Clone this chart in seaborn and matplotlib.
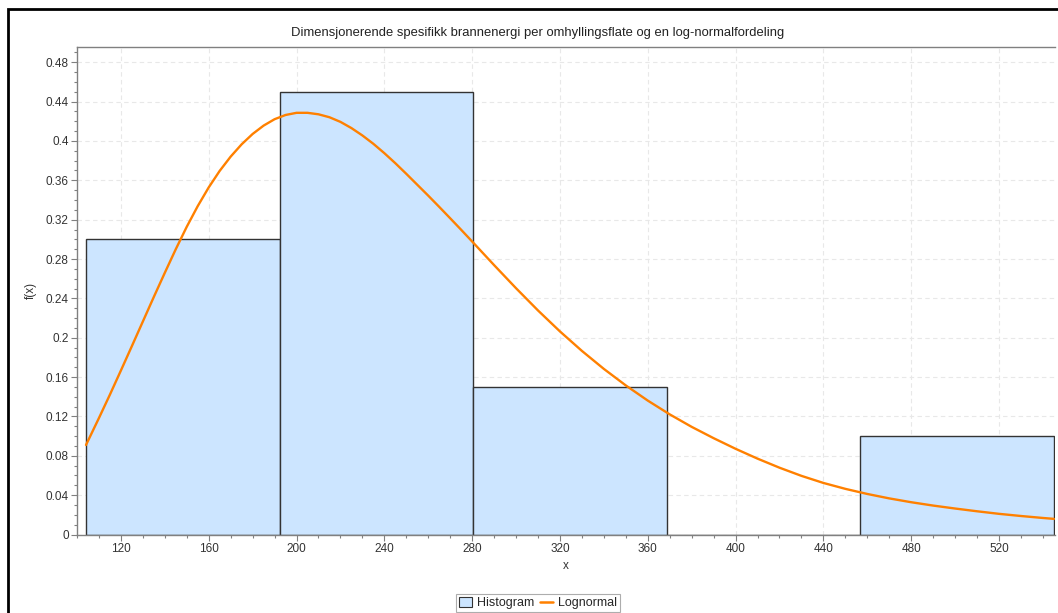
import matplotlib
matplotlib.use("Agg")
import matplotlib.pyplot as plt
import matplotlib.patches as mpatches
from matplotlib.lines import Line2D
from matplotlib.ticker import MultipleLocator, FuncFormatter
import seaborn as sns
import pandas as pd

# ---- data ----
bin_edges = [104.1, 192.3, 280.5, 368.6, 456.8, 545.0]
bin_heights = [0.30, 0.45, 0.15, 0.0, 0.10]

curve_x = [104.1, 110, 115, 120, 125, 130, 135, 140, 145, 150, 155, 160, 165, 170,
           175, 180, 185, 190, 195, 200, 205, 210, 215, 220, 225, 230, 235, 240,
           245, 250, 255, 260, 265, 270, 275, 280, 290, 300, 310, 320, 330, 340,
           350, 360, 370, 380, 390, 400, 410, 420, 430, 440, 450, 460, 470, 480,
           490, 500, 510, 520, 530, 540, 545]
curve_y = [0.0910, 0.1184, 0.1422, 0.1667, 0.1915, 0.2165, 0.2415, 0.2660, 0.2900,
           0.3128, 0.3338, 0.3528, 0.3696, 0.3841, 0.3966, 0.4071, 0.4156, 0.4221,
           0.4264, 0.4286, 0.4286, 0.4271, 0.4241, 0.4194, 0.4131, 0.4056, 0.3971,
           0.3876, 0.3774, 0.3666, 0.3555, 0.3444, 0.3330, 0.3214, 0.3097, 0.2978,
           0.2738, 0.2503, 0.2277, 0.2064, 0.1866, 0.1683, 0.1515, 0.1361, 0.1221,
           0.1094, 0.0979, 0.0871, 0.0771, 0.0679, 0.0596, 0.0524, 0.0464, 0.0412,
           0.0367, 0.0328, 0.0294, 0.0264, 0.0236, 0.0210, 0.0188, 0.0168, 0.0159]

title = "Dimensjonerende spesifikk brannenergi per omhyllingsflate og en log-normalfordeling"
x_label = "x"
y_label = "f(x)"
legend_labels = ["Histogram", "Lognormal"]

sns.set_theme(style="white")
plt.rcParams["font.family"] = ["Liberation Sans", "DejaVu Sans"]

bar_color = "#CCE5FF"
line_color = "#FF8000"
spine_color = "#808080"

fig = plt.figure(figsize=(10.58, 6.13), dpi=100)
ax = fig.add_axes([77 / 1058, 1 - 534.5 / 613, (1055 - 77) / 1058, (534.5 - 47) / 613])

centers = [(bin_edges[i] + bin_edges[i + 1]) / 2 for i in range(len(bin_heights))]
hist_df = pd.DataFrame({"x": centers, "w": bin_heights})
sns.histplot(data=hist_df, x="x", weights="w", bins=bin_edges, stat="count",
             color=bar_color, alpha=1.0, edgecolor="#333333", linewidth=1.0, ax=ax, zorder=2)

curve_df = pd.DataFrame({"x": curve_x, "y": curve_y})
sns.lineplot(data=curve_df, x="x", y="y", color=line_color, linewidth=1.7, ax=ax, zorder=3,
             solid_joinstyle="round", solid_capstyle="round")

ax.set_xlim(100, 545.5)
ax.set_ylim(0, 0.4955)

ax.xaxis.set_major_locator(MultipleLocator(40))
ax.xaxis.set_minor_locator(MultipleLocator(10))
ax.yaxis.set_major_locator(MultipleLocator(0.04))
ax.yaxis.set_minor_locator(MultipleLocator(0.01))
ax.yaxis.set_major_formatter(FuncFormatter(lambda v, p: f"{round(v, 2):g}"))
ax.set_xticks(range(120, 541, 40))

ax.grid(True, which="major", color="#E8E8E8", linestyle=(0, (4, 3)), linewidth=0.8, zorder=0)
ax.set_axisbelow(True)

ax.tick_params(axis="both", which="major", direction="out", length=4, width=0.8,
               color=spine_color, labelsize=8.5, labelcolor="#333333", pad=2,
               bottom=True, left=True)
ax.tick_params(axis="both", which="minor", direction="out", length=2, width=0.8,
               color=spine_color, bottom=True, left=True)

for s in ax.spines.values():
    s.set_visible(True)
    s.set_color(spine_color)
    s.set_linewidth(1.0)
ax.spines["right"].set_visible(False)

ax.set_xlabel(x_label, fontsize=8.5, color="#333333", labelpad=4)
ax.set_ylabel(y_label, fontsize=8.5, color="#333333", labelpad=6)

fig.text(538 / 1058, 1 - 33 / 613, title, ha="center", va="center", fontsize=9.4, color="#222222")

handles = [mpatches.Patch(facecolor=bar_color, edgecolor="#333333", linewidth=0.8),
           Line2D([0], [0], color=line_color, linewidth=1.8)]
leg = fig.legend(handles, legend_labels, loc="center", bbox_to_anchor=(538 / 1058, 1 - 603 / 613),
                 ncol=2, fontsize=9, frameon=True, fancybox=False, handlelength=1.0,
                 handleheight=0.9, handletextpad=0.4, columnspacing=0.5, borderpad=0.25,
                 borderaxespad=0)
leg.get_frame().set_edgecolor("#999999")
leg.get_frame().set_linewidth(0.8)

# outer black frame (left and top edges visible)
fig.add_artist(mpatches.Rectangle((8 / 1058, -0.1), 1.2, 1.1 - 9 / 613, transform=fig.transFigure,
                                  fill=False, edgecolor="black", linewidth=2.0, clip_on=False))

fig.savefig("out.png", dpi=100)
